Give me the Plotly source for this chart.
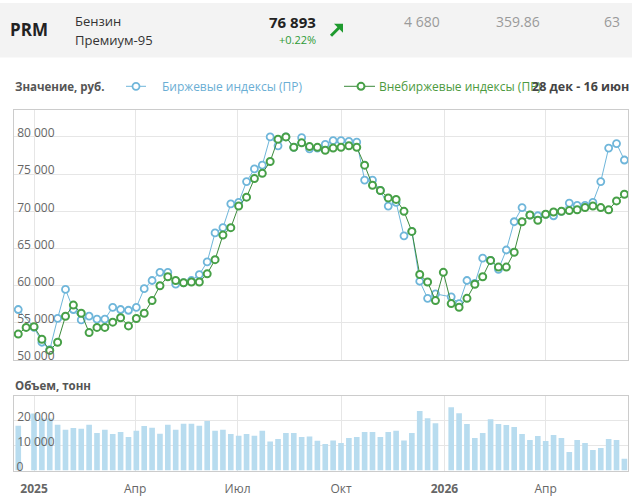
import plotly.graph_objects as go
import pandas as pd

W, H = 632, 503


def px(x):
    return x / W


def py(y):
    return 1 - y / H


# ---------------- data ----------------
week_start = "2024-12-18"
n_weeks = 78
dates = pd.date_range(week_start, periods=n_weeks, freq="7D")

exchange_index = [
    56800, None, 54400, 52400, 51400, 55600, 59500, 56800, 55400, 55900,
    55500, 55500, 57100, 56800, 56700, 57100, 59600, 60700, 61800, 61800,
    60200, 60400, 60700, 61500, 63200, 67100, 67800, 71000, 71200, 74000,
    75700, 76200, 80000, 78800, 80000, 78600, 79900, 78400, 78500, 79000,
    79500, 79500, 79400, 79300, 74200, 74200, 72800, 70700, 71200, 66700,
    67300, 60600, 58300, 58900, None, 58500, 57600, 60700, 60300, 63700,
    63400, 62200, 64800, 68600, 70500, 69500, 69400, 69600, 69400, 70000,
    71100, 70800, 70800, 71200, 74000, 78500, 79100, 76893,
]

otc_index = [
    53500, 54400, 54500, 52800, 51300, 52400, 55900, 57400, 56300, 53700,
    54400, 54400, 55100, 55700, 54600, 55600, 56300, 58000, 60000, 61200,
    60700, 60400, 60500, 60500, 61600, 63500, 66800, 67800, 70700, 71900,
    74400, 75100, 76700, 79700, 80000, 78600, 79200, 78700, 78600, 78200,
    78500, 78600, 78800, 78600, 76200, 73500, 72800, 71800, 71600, 70000,
    67300, 61500, 60500, 58000, 61800, 57600, 57100, 58300, 60200, 61200,
    63400, 62500, 62500, 64500, 68600, 69500, 68800, 69600, 69900, 70000,
    70100, 70200, 70500, 70700, 70500, 70200, 71400, 72300,
]

volume_t = [
    18000, 0, 23000, 21000, 21000, 18400, 16400, 17100, 16800, 18400,
    15100, 16400, 14700, 15500, 13500, 16000, 17900, 17200, 14800, 18400,
    16400, 18800, 18800, 18000, 20000, 16000, 16400, 14700, 14000, 14700,
    14000, 16000, 11700, 12700, 15100, 15100, 13500, 13700, 12000, 10700,
    12100, 11100, 13100, 13500, 15500, 15500, 13500, 15500, 16000, 12100,
    15100, 24000, 21100, 19100, 0, 25500, 23100, 18700, 13100, 15100,
    20700, 18700, 18300, 17500, 14700, 12300, 13900, 11900, 14300, 13100,
    7500, 12300, 11100, 8300, 9100, 12700, 12300, 4700,
]

x_tick_dates = ["2025-01-01", "2025-04-01", "2025-07-01", "2025-10-01", "2026-01-01", "2026-04-01"]
x_tick_text = ["<b>2025</b>", "Апр", "Июл", "Окт", "<b>2026</b>", "Апр"]
price_ticks = [50000, 55000, 60000, 65000, 70000, 75000, 80000]
price_tick_text = ["50 000", "55 000", "60 000", "65 000", "70 000", "75 000", "80 000"]
volume_ticks = [0, 10000, 20000]
volume_tick_text = ["0" + "\u00a0" * 10, "10 000", "20 000"]

ticker = "PRM"
product_lines = ["Бензин", "Премиум-95"]
last_price = "76 893"
change_pct = "+0.22%"
header_stats = ["4 680", "359.86", "63"]
series_names = ["Биржевые индексы (ПР)", "Внебиржевые индексы (ПР)"]
period_text = "28 дек - 16 июн"

# ---------------- style ----------------
BLUE = "#6fb6da"
GREEN_LINE = "#3b8a3b"
GREEN_MK = "#47a047"
BAR = "#b8dcef"
GRID = "#e6e6e6"
BORDER = "#cccccc"
TICK = "#666666"
FONT = "Open Sans"

x_range = ["2024-12-14 05:00", "2026-06-13 05:00"]

fig = go.Figure()

fig.add_trace(go.Bar(
    x=dates, y=volume_t, xaxis="x2", yaxis="y2",
    marker=dict(color=BAR, line=dict(width=0)),
    width=5 * 86400000, hoverinfo="skip", showlegend=False,
))

fig.add_trace(go.Scatter(
    x=dates, y=exchange_index, mode="lines+markers", connectgaps=True,
    line=dict(color=BLUE, width=1),
    marker=dict(symbol="circle", size=7, color="white", line=dict(color=BLUE, width=1.8)),
    showlegend=False, name=series_names[0],
))

fig.add_trace(go.Scatter(
    x=dates, y=otc_index, mode="lines+markers", connectgaps=True,
    line=dict(color=GREEN_LINE, width=1),
    marker=dict(symbol="circle", size=7, color="white", line=dict(color=GREEN_MK, width=2)),
    showlegend=False, name=series_names[1],
))

axis_common = dict(
    showline=True, linecolor=BORDER, linewidth=1, mirror=True,
    showgrid=True, gridcolor=GRID, gridwidth=1, zeroline=False, ticks="",
)

fig.update_layout(
    width=W, height=H,
    margin=dict(l=0, r=0, t=0, b=0),
    paper_bgcolor="white", plot_bgcolor="white",
    font=dict(family=FONT, color=TICK, size=12),
    showlegend=False,
    xaxis=dict(
        domain=[px(14), px(628)], anchor="y", type="date", range=x_range,
        tickvals=x_tick_dates, showticklabels=False, **axis_common,
    ),
    yaxis=dict(
        domain=[py(363), py(111)], anchor="x", range=[50000, 83600],
        tickvals=price_ticks, ticktext=price_tick_text,
        ticklabelposition="outside", ticklabelstandoff=-44, ticklabelshift=-4,
        ticklabeloverflow="allow",
        tickfont=dict(family=FONT, size=12, color=TICK), **axis_common,
    ),
    xaxis2=dict(
        domain=[px(14), px(628)], anchor="y2", type="date", range=x_range,
        tickvals=x_tick_dates, ticktext=x_tick_text, ticklabeloverflow="allow",
        ticklabelstandoff=7,
        tickfont=dict(family=FONT, size=12, color=TICK), **axis_common,
    ),
    yaxis2=dict(
        domain=[py(474.3), py(399)], anchor="x2", range=[0, 30100],
        tickvals=volume_ticks, ticktext=volume_tick_text,
        ticklabelposition="outside", ticklabelstandoff=-44, ticklabelshift=-4,
        ticklabeloverflow="allow",
        tickfont=dict(family=FONT, size=12, color=TICK), **axis_common,
    ),
)

shapes = [
    dict(type="rect", xref="paper", yref="paper", x0=0, x1=1, y0=py(58), y1=py(3),
         fillcolor="#f3f3f3", line=dict(width=0), layer="below"),
    # header arrow
    dict(type="line", xref="paper", yref="paper", x0=px(331), x1=px(340), y0=py(36), y1=py(27),
         line=dict(color="#1e9a2e", width=3)),
    dict(type="path", xref="paper", yref="paper",
         path=f"M {px(334)} {py(24)} L {px(343)} {py(24)} L {px(343)} {py(33)} Z",
         fillcolor="#1e9a2e", line=dict(width=0)),
    # legend keys
    dict(type="line", xref="paper", yref="paper", x0=px(126), x1=px(146), y0=py(87), y1=py(87),
         line=dict(color=BLUE, width=1)),
    dict(type="circle", xref="paper", yref="paper", x0=px(132.5), x1=px(139.5), y0=py(90.5), y1=py(83.5),
         fillcolor="white", line=dict(color=BLUE, width=1.8)),
    dict(type="line", xref="paper", yref="paper", x0=px(344), x1=px(375), y0=py(87), y1=py(87),
         line=dict(color=GREEN_LINE, width=1)),
    dict(type="circle", xref="paper", yref="paper", x0=px(357.5), x1=px(364.5), y0=py(90.5), y1=py(83.5),
         fillcolor="white", line=dict(color=GREEN_MK, width=2)),
]

annotations = []


def add_text(text, x, y, size, color, bold=False, anchor="left", family=FONT):
    annotations.append(dict(
        text=f"<b>{text}</b>" if bold else text,
        x=px(x), y=py(y), xref="paper", yref="paper",
        xanchor=anchor, yanchor="middle", showarrow=False,
        font=dict(family=family, size=size, color=color),
    ))


add_text(ticker, 8, 30, 17, "#222222", bold=True)
add_text(product_lines[0], 73, 21, 13, "#333333")
add_text(product_lines[1], 73, 40, 13, "#333333")
add_text(last_price, 318, 22, 15, "#222222", bold=True, anchor="right")
add_text(change_pct, 318, 40, 11, "#2e9a36", anchor="right")
add_text(header_stats[0], 442, 22, 14, "#9a9a9a", anchor="right")
add_text(header_stats[1], 542, 22, 14, "#9a9a9a", anchor="right")
add_text(header_stats[2], 622, 22, 14, "#9a9a9a", anchor="right")

add_text("Значение, руб.", 13, 87, 11.5, "#555555", bold=True)
add_text(series_names[0], 160, 87, 12, "#6aaed4")
add_text(series_names[1], 377, 87, 12, "#4c9a40")
add_text(period_text, 631, 87, 12.5, "#444444", bold=True, anchor="right")
add_text("Объем, тонн", 13, 389, 11.5, "#555555", bold=True)

fig.update_layout(shapes=shapes, annotations=annotations)

fig.write_html("out.html")
